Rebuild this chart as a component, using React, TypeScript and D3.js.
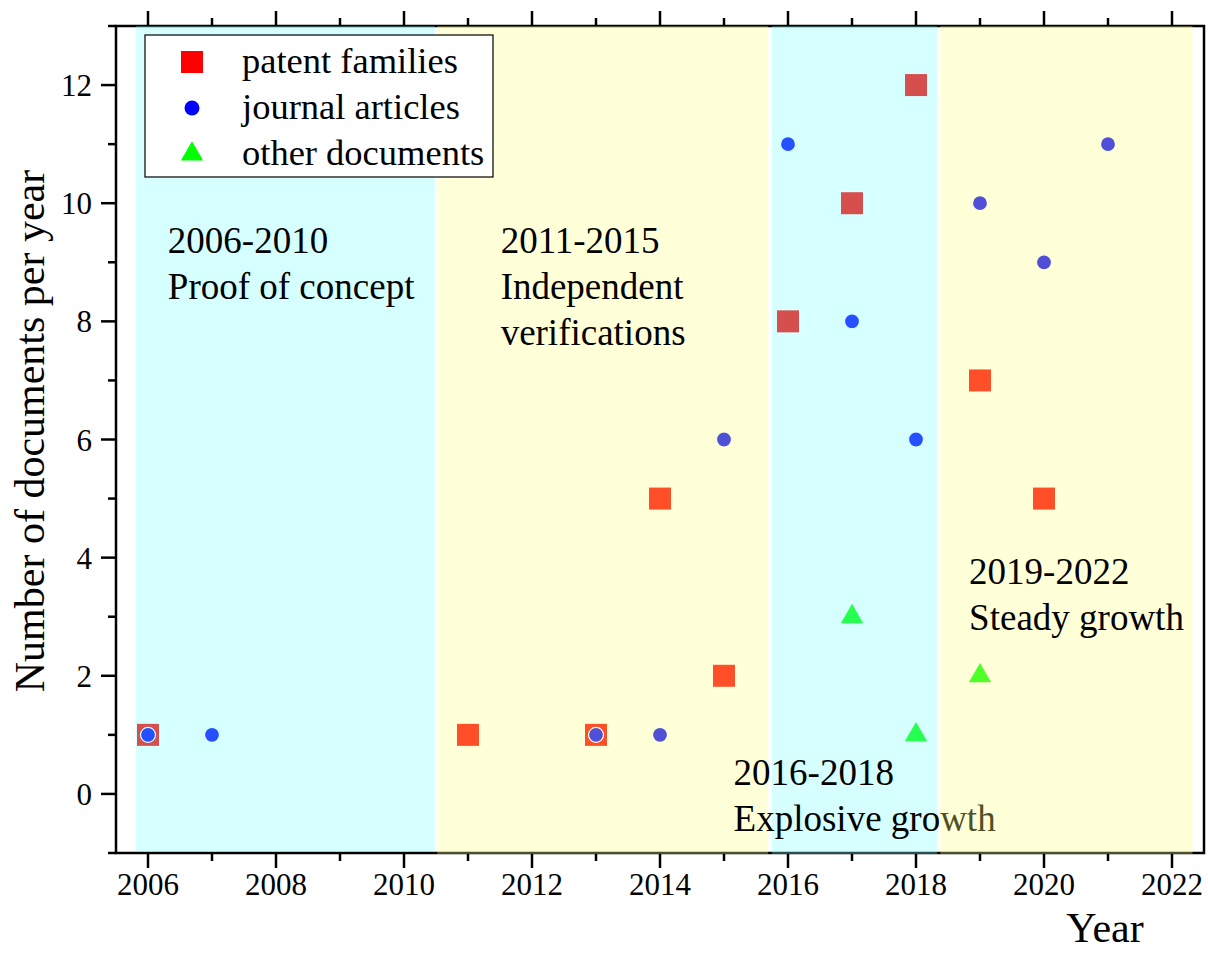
import React from 'react'
import * as d3 from 'd3'

// data
const patentYears = [2006, 2011, 2013, 2014, 2015, 2016, 2017, 2018, 2019, 2020]
const patentCounts = [1, 1, 1, 5, 2, 8, 10, 12, 7, 5]
const articleYears = [2006, 2007, 2013, 2014, 2015, 2016, 2017, 2018, 2019, 2020, 2021]
const articleCounts = [1, 1, 1, 1, 6, 11, 8, 6, 10, 9, 11]
const otherYears = [2017, 2018, 2019]
const otherCounts = [3, 1, 2]

const xTicks = [2006, 2008, 2010, 2012, 2014, 2016, 2018, 2020, 2022]
const yTicks = [0, 2, 4, 6, 8, 10, 12]

const bandStarts = [2005.81, 2010.52, 2015.75, 2018.38]
const bandEnds = [2010.48, 2015.69, 2018.33, 2022.32]
const bandKinds = ['cyan', 'yellow', 'cyan', 'yellow']
const bandTitles = ['2006-2010', '2011-2015', '2016-2018', '2019-2022']
const bandLines = [['Proof of concept'], ['Independent', 'verifications'], ['Explosive growth'], ['Steady growth']]
const bandLabelX = [2006.31, 2011.51, 2015.15, 2018.83]
const bandLabelY = [9.15, 9.15, 0.15, 3.55]

const legendNames = ['patent families', 'journal articles', 'other documents']

const width = 1208
const height = 953
const margin = { top: 26, right: 4, bottom: 100, left: 116 }
const font = "'Liberation Serif', 'Times New Roman', Times, serif"

const bandFill: Record<string, string> = { cyan: 'rgb(122,255,255)', yellow: 'rgb(255,255,128)' }

const App = () => {
  const x = d3
    .scaleLinear()
    .domain([2005.5, 2022.5])
    .range([margin.left, width - margin.right])
  const y = d3
    .scaleLinear()
    .domain([-1, 13])
    .range([height - margin.bottom, margin.top])

  const minorX = d3.range(2007, 2022, 2)
  const minorY = d3.range(-1, 14, 2)
  const x0 = x.range()[0]
  const x1 = x.range()[1]
  const y0 = y.range()[0]
  const y1 = y.range()[1]

  const tri = d3.symbol().type(d3.symbolTriangle).size(215)

  const band = (i: number) => (
    <rect
      key={'b' + i}
      x={x(bandStarts[i])}
      width={x(bandEnds[i]) - x(bandStarts[i])}
      y={y1}
      height={y0 - y1 + (i === 0 ? -2 : 1)}
      fill={bandFill[bandKinds[i]]}
      fillOpacity={0.31}
    />
  )

  const bandText = (i: number) => (
    <text key={'t' + i} x={x(bandLabelX[i])} y={y(bandLabelY[i])} fontSize={37} fill="#000">
      <tspan x={x(bandLabelX[i])}>{bandTitles[i]}</tspan>
      {bandLines[i].map((l, j) => (
        <tspan key={j} x={x(bandLabelX[i])} dy={46}>
          {l}
        </tspan>
      ))}
    </text>
  )

  const legendX = 145
  const legendY = 35

  return (
    <svg
      width={width}
      height={height}
      viewBox={`0,0,${width},${height}`}
      style={{ position: 'absolute', left: 0, top: 0, background: '#fff', fontFamily: font }}
    >
      {/* frame and ticks */}
      <g stroke="#000" strokeWidth={2.5} fill="none">
        <rect x={x0} y={y1} width={x1 - x0} height={y0 - y1} />
        {xTicks.map(t => (
          <line key={'xt' + t} x1={x(t)} x2={x(t)} y1={y0} y2={y0 + 15} />
        ))}
        {minorX.map(t => (
          <line key={'xm' + t} x1={x(t)} x2={x(t)} y1={y0} y2={y0 + 8} />
        ))}
        {d3.range(2006, 2023).map(t => (
          <line key={'xtop' + t} x1={x(t)} x2={x(t)} y1={y1} y2={y1 - (t % 2 === 0 ? 15 : 8)} />
        ))}
        {yTicks.map(t => (
          <line key={'yt' + t} x1={x0} x2={x0 - 15} y1={y(t)} y2={y(t)} />
        ))}
        {minorY.map(t => (
          <line key={'ym' + t} x1={x0} x2={x0 - 8} y1={y(t)} y2={y(t)} />
        ))}
      </g>
      <g fontSize={31} fill="#000">
        {xTicks.map(t => (
          <text key={'xl' + t} x={x(t)} y={y0 + 42} textAnchor="middle">
            {t}
          </text>
        ))}
        {yTicks.map(t => (
          <text key={'yl' + t} x={x0 - 24} y={y(t) + 11} textAnchor="end">
            {t}
          </text>
        ))}
      </g>
      <text x={1105} y={y0 + 89} fontSize={42} textAnchor="middle">
        Year
      </text>
      <text transform={`translate(44,431) rotate(-90)`} fontSize={42} textAnchor="middle">
        Number of documents per year
      </text>

      {/* markers */}
      {patentYears.map((yr, i) => (
        <rect
          key={'p' + yr}
          x={x(yr) - 11}
          y={y(patentCounts[i]) - 11}
          width={22}
          height={22}
          fill="#ff0000"
        />
      ))}
      {articleYears.map((yr, i) => (
        <circle
          key={'a' + yr}
          cx={x(yr)}
          cy={y(articleCounts[i])}
          r={7.5}
          fill="#0000ff"
          stroke="#fff"
          strokeWidth={1.2}
        />
      ))}
      {otherYears.map((yr, i) => (
        <path
          key={'o' + yr}
          d={tri() as string}
          transform={`translate(${x(yr)},${y(otherCounts[i])})`}
          fill="#00ff00"
        />
      ))}

      {/* shaded periods and their notes */}
      {[0, 1, 2].map(band)}
      {[0, 1, 2].map(bandText)}
      {band(3)}
      {bandText(3)}

      {/* legend */}
      <g>
        <rect x={legendX} y={legendY} width={348} height={142} fill="#fff" stroke="#000" strokeWidth={1.2} />
        {legendNames.map((n, i) => {
          const cy = legendY + 27 + i * 46
          return (
            <g key={n}>
              {i === 0 && <rect x={181} y={cy - 11} width={22} height={22} fill="#ff0000" />}
              {i === 1 && <circle cx={192} cy={cy} r={7.5} fill="#0000ff" />}
              {i === 2 && <path d={tri() as string} transform={`translate(192,${cy})`} fill="#00ff00" />}
              <text x={242} y={cy + 11} fontSize={36.5}>
                {n}
              </text>
            </g>
          )
        })}
      </g>
    </svg>
  )
}

export default App
